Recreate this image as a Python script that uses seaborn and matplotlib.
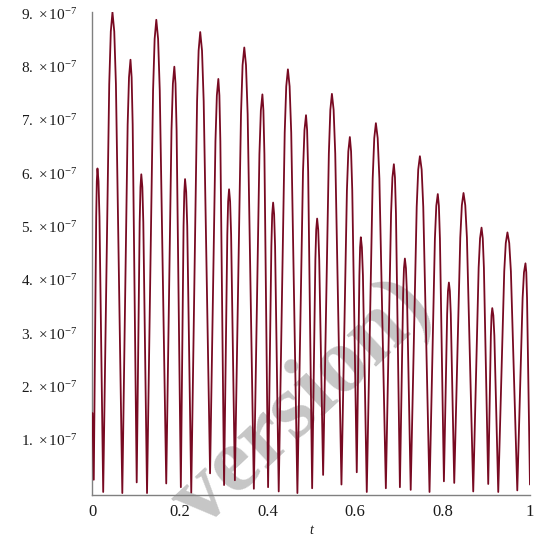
import numpy as np
import pandas as pd
import seaborn as sns
import matplotlib.pyplot as plt
from matplotlib.ticker import FixedLocator, MultipleLocator, FuncFormatter

# values, y in units of 1e-7
low_t = [0.0, 0.0030, 0.0245, 0.0682, 0.1011, 0.1247, 0.1686, 0.2020, 0.2258, 0.2688,
         0.3008, 0.3255, 0.3689, 0.4014, 0.4257, 0.4684, 0.5021, 0.5272, 0.5691, 0.6041,
         0.6270, 0.6706, 0.7027, 0.7274, 0.7704, 0.8033, 0.8269, 0.8703, 0.9046, 0.9275,
         0.9710, 1.0]
low_v = [1.50, 0.25, 0.02, 0.00, 0.20, 0.00, 0.18, 0.11, 0.01, 0.37,
         0.15, 0.24, 0.08, 0.11, 0.03, 0.00, 0.09, 0.34, 0.16, 0.39,
         0.02, 0.09, 0.11, 0.06, 0.02, 0.22, 0.19, 0.03, 0.17, 0.02,
         0.05, 0.16]

peak_t = [0.0114, 0.0457, 0.0869, 0.1116, 0.1459, 0.1871, 0.2116, 0.2463, 0.2877, 0.3122,
          0.3470, 0.3884, 0.4129, 0.4467, 0.4881, 0.5135, 0.5473, 0.5883, 0.6134, 0.6478,
          0.6889, 0.7141, 0.7484, 0.7893, 0.8147, 0.8481, 0.8893, 0.9138, 0.9485, 0.9897]
peak_v = [6.09, 9.02, 8.13, 5.98, 8.88, 8.00, 5.89, 8.65, 7.77, 5.70,
          8.36, 7.48, 5.45, 7.95, 7.09, 5.15, 7.49, 6.68, 4.80, 6.94,
          6.17, 4.40, 6.32, 5.61, 3.95, 5.63, 4.98, 3.47, 4.89, 4.31]

# points on the flanks, lower down
shoulder_t = [0.0085, 0.0160, 0.0383, 0.0536, 0.0804, 0.0919, 0.1079, 0.1162, 0.1385, 0.1538,
              0.1806, 0.1923, 0.2082, 0.2166, 0.2391, 0.2542, 0.2811, 0.2923, 0.3082, 0.3169,
              0.3395, 0.3547, 0.3816, 0.3930, 0.4089, 0.4174, 0.4394, 0.4543, 0.4812, 0.4930,
              0.5095, 0.5183, 0.5403, 0.5549, 0.5816, 0.5938, 0.6101, 0.6182, 0.6405, 0.6558,
              0.6825, 0.6937, 0.7101, 0.7188, 0.7411, 0.7561, 0.7827, 0.7942, 0.8107, 0.8190,
              0.8407, 0.8559, 0.8827, 0.8947, 0.9106, 0.9186, 0.9412, 0.9564, 0.9832, 0.9933]
shoulder_v = [5.18, 5.18, 7.67, 7.67, 6.91, 6.91, 5.08, 5.08, 7.55, 7.55,
              6.80, 6.80, 5.01, 5.01, 7.35, 7.35, 6.60, 6.60, 4.85, 4.85,
              7.11, 7.11, 6.36, 6.36, 4.63, 4.63, 6.76, 6.76, 6.03, 6.03,
              4.38, 4.38, 6.37, 6.37, 5.68, 5.68, 4.08, 4.08, 5.90, 5.90,
              5.24, 5.24, 3.74, 3.74, 5.37, 5.37, 4.77, 4.77, 3.36, 3.36,
              4.79, 4.79, 4.23, 4.23, 2.95, 2.95, 4.16, 4.16, 3.66, 3.66]

# points on the flanks right under each crest
crest_t = [0.0099, 0.0138, 0.0419, 0.0498, 0.0835, 0.0895, 0.1097, 0.1140, 0.1421, 0.1500,
           0.1838, 0.1898, 0.2099, 0.2142, 0.2426, 0.2504, 0.2843, 0.2901, 0.3101, 0.3146,
           0.3431, 0.3509, 0.3849, 0.3907, 0.4108, 0.4152, 0.4429, 0.4506, 0.4846, 0.4906,
           0.5114, 0.5160, 0.5437, 0.5512, 0.5848, 0.5911, 0.6117, 0.6158, 0.6441, 0.6519,
           0.6856, 0.6914, 0.7120, 0.7165, 0.7446, 0.7524, 0.7859, 0.7918, 0.8126, 0.8169,
           0.8443, 0.8521, 0.8859, 0.8921, 0.9121, 0.9163, 0.9447, 0.9526, 0.9863, 0.9916]
crest_v = [5.85, 5.85, 8.66, 8.66, 7.80, 7.80, 5.74, 5.74, 8.52, 8.52,
           7.68, 7.68, 5.65, 5.65, 8.30, 8.30, 7.46, 7.46, 5.47, 5.47,
           8.03, 8.03, 7.18, 7.18, 5.23, 5.23, 7.63, 7.63, 6.81, 6.81,
           4.94, 4.94, 7.19, 7.19, 6.41, 6.41, 4.61, 4.61, 6.66, 6.66,
           5.92, 5.92, 4.22, 4.22, 6.07, 6.07, 5.39, 5.39, 3.79, 3.79,
           5.40, 5.40, 4.78, 4.78, 3.33, 3.33, 4.69, 4.69, 4.14, 4.14]

xtick_vals = [0, 0.2, 0.4, 0.6, 0.8, 1]
xtick_labels = ['0', '0.2', '0.4', '0.6', '0.8', '1']
ytick_vals = [1, 2, 3, 4, 5, 6, 7, 8, 9]

df = pd.DataFrame({
    't': low_t + peak_t + shoulder_t + crest_t,
    'v': np.array(low_v + peak_v + shoulder_v + crest_v) * 1e-7,
})

sns.set_style('white')
plt.rcParams['font.family'] = ['Liberation Serif', 'DejaVu Serif']
plt.rcParams['mathtext.fontset'] = 'custom'
plt.rcParams['mathtext.rm'] = 'Liberation Serif'
plt.rcParams['mathtext.it'] = 'Liberation Serif:italic'

fig = plt.figure(figsize=(5.43, 5.42), dpi=100)
ax = fig.add_axes([0.1703, 0.0862, 0.8057, 0.8911])

sns.lineplot(data=df, x='t', y='v', ax=ax, color='#780a22', linewidth=1.3,
             estimator=None, sort=True, zorder=3)

ax.set_xlim(0, 1)
ax.set_ylim(-0.042e-7, 9.02e-7)

ax.xaxis.set_major_locator(FixedLocator(xtick_vals))
ax.set_xticklabels(xtick_labels)
ax.xaxis.set_minor_locator(MultipleLocator(0.1))
ax.yaxis.set_major_locator(FixedLocator([k * 1e-7 for k in ytick_vals]))
ax.yaxis.set_minor_locator(MultipleLocator(0.5e-7))
ax.yaxis.set_major_formatter(FuncFormatter(
    lambda y, pos: r'$%d.\ {\times}\,10^{-7}$' % round(y / 1e-7)))

for s in ['top', 'right']:
    ax.spines[s].set_visible(False)
for s in ['left', 'bottom']:
    ax.spines[s].set_color('#808080')
    ax.spines[s].set_linewidth(1.0)

ax.tick_params(which='major', direction='out', width=0.8, color='#808080',
               labelcolor='#1a1a1a')
ax.tick_params(which='minor', direction='out', width=0.8, color='#808080')
ax.tick_params(axis='y', which='major', length=5, pad=6, labelsize=11)
ax.tick_params(axis='y', which='minor', length=3)
ax.tick_params(axis='x', which='major', length=3.6, pad=2.5, labelsize=12)
ax.tick_params(axis='x', which='minor', length=2.6)

ax.set_xlabel('t', fontsize=10, style='italic', color='#1a1a1a', labelpad=3)
ax.set_ylabel('')

# grey watermark sitting behind the curve
ax.text(318 / 543, 1 - 420 / 542, 'version)', transform=fig.transFigure,
        rotation=43, rotation_mode='anchor', ha='center', va='baseline',
        fontsize=67, fontweight='bold', color='#c6c6c6', zorder=1, clip_on=False)

fig.savefig('out.png', dpi=100)
